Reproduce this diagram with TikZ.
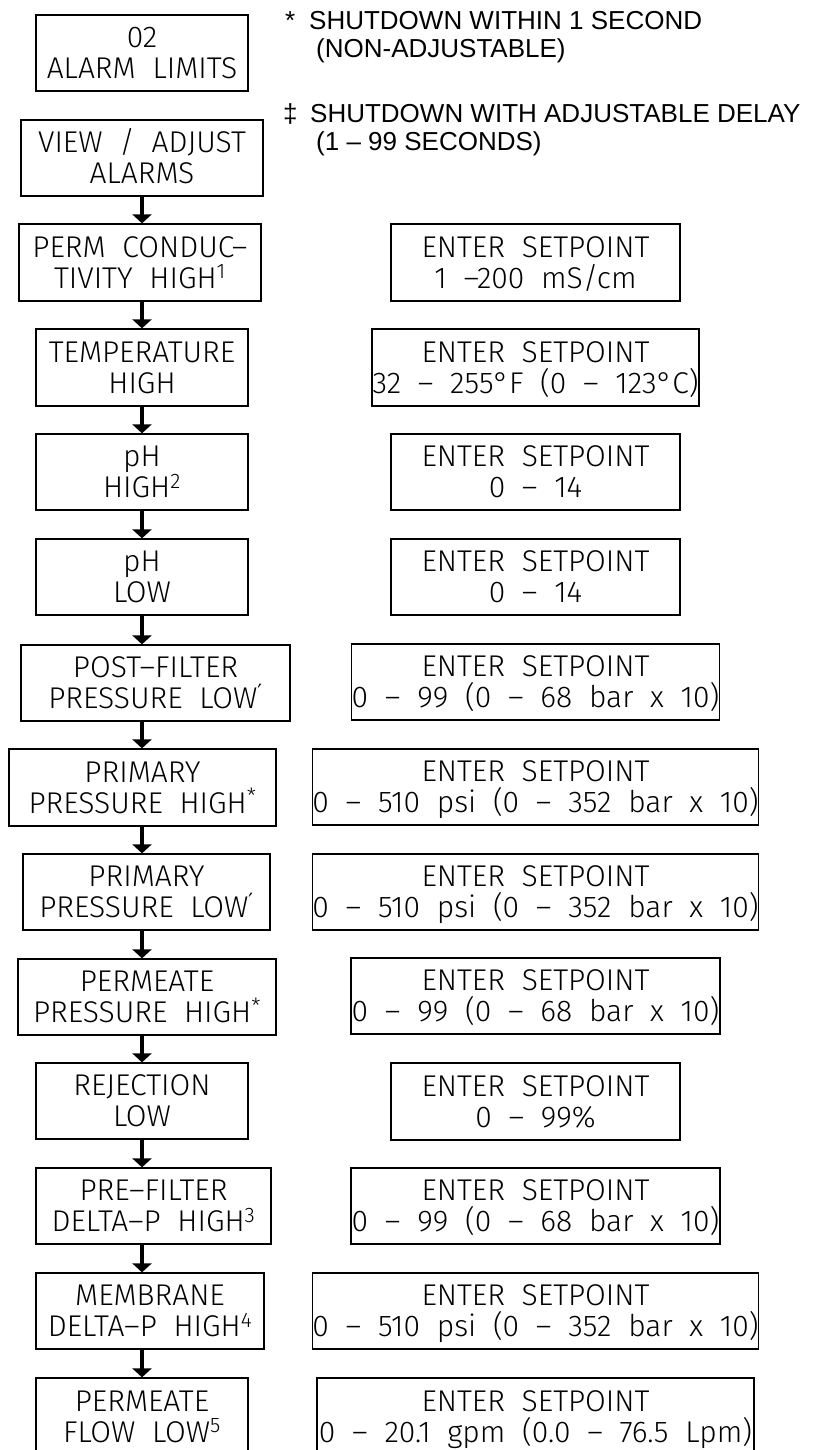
\documentclass[tikz,border=0pt]{standalone}
\usepackage{fontspec}
\usetikzlibrary{arrows.meta}
\newfontfamily\cadfont{Fira Sans}[UprightFont=* Light, WordSpace=2]
\newfontfamily\legendfont{Liberation Sans}
\newfontfamily\primefont{DejaVu Sans}
\newcommand\bx[7]{%
  \node[box, minimum width={(#3-#2)*1pt}, minimum height={(#5-#4)*1pt}] (#1)
    at ({(#2+#3)/2},{(#4+#5)/2}) {\rule{0pt}{20pt}\smash{#6}\\\smash{#7}};}
\newcommand\dagmark{\textsuperscript{\primefont ′}}
\tikzset{
  box/.style={draw=black, line width=1.3pt, inner sep=0pt, align=center,
    font=\cadfont\fontsize{30}{31}\selectfont},
  arr/.style={line width=4.5pt, -{Triangle[width=19pt,length=9pt]}},
  leg/.style={anchor=base west, inner sep=0pt,
    font=\legendfont\fontsize{26}{28}\selectfont},
}
\begin{document}
\begin{tikzpicture}[x=1pt,y=-1pt]
\useasboundingbox (0,0) rectangle (820,1450);
\clip (0,0) rectangle (820,1450);
\fill[white] (0,0) rectangle (820,1450);
% legend
\node[leg] (s1) at (285,30) {*};
\node[leg] (l1) at (309,30) {SHUTDOWN WITHIN 1 SECOND};
\node[leg] (l2) at (316,58) {(NON-ADJUSTABLE)};
\node[leg] (s2) at (283,123) {‡};
\node[leg] (l3) at (310,123) {SHUTDOWN WITH ADJUSTABLE DELAY};
\node[leg] (l4) at (316,151) {(1 – 99 SECONDS)};
% left column
\bx{b1}{36}{248}{15}{91}{02}{ALARM LIMITS}
\bx{b2}{21}{263}{120}{196}{VIEW / ADJUST}{ALARMS}
\bx{b3}{19}{261}{224}{301}{PERM CONDUC–}{TIVITY HIGH\textsuperscript{1}}
\bx{b4}{36}{248}{329}{406}{TEMPERATURE}{HIGH}
\bx{b5}{36}{248}{434}{510}{pH}{HIGH\textsuperscript{2}}
\bx{b6}{36}{248}{539}{615}{pH}{LOW}
\bx{b7}{21}{290}{645}{721}{POST–FILTER}{PRESSURE LOW\dagmark}
\bx{b8}{9}{276}{749}{826}{PRIMARY}{PRESSURE HIGH\textsuperscript{*}}
\bx{b9}{23}{270}{854}{930}{PRIMARY}{PRESSURE LOW\dagmark}
\bx{b10}{18}{276}{959}{1035}{PERMEATE}{PRESSURE HIGH\textsuperscript{*}}
\bx{b11}{36}{248}{1063}{1139}{REJECTION}{LOW}
\bx{b12}{36}{271}{1168}{1244}{PRE–FILTER}{DELTA–P HIGH\textsuperscript{3}}
\bx{b13}{36}{264}{1273}{1349}{MEMBRANE}{DELTA–P HIGH\textsuperscript{4}}
\bx{b14}{36}{248}{1378}{1455}{PERMEATE}{FLOW LOW\textsuperscript{5}}
% right column
\bx{e3}{391}{680}{224}{301}{ENTER SETPOINT}{1 –200 mS/cm}
\bx{e4}{372}{699}{329}{406}{ENTER SETPOINT}{32 – 255°F (0 – 123°C)}
\bx{e5}{391}{680}{434}{510}{ENTER SETPOINT}{0 – 14}
\bx{e6}{391}{680}{539}{615}{ENTER SETPOINT}{0 – 14}
\bx{e7}{353}{718}{644}{720}{ENTER SETPOINT}{0 – 99 (0 – 68 bar x 10)}
\bx{e8}{315}{756}{749}{825}{ENTER SETPOINT}{0 – 510 psi (0 – 352 bar x 10)}
\bx{e9}{315}{756}{854}{930}{ENTER SETPOINT}{0 – 510 psi (0 – 352 bar x 10)}
\bx{e10}{351}{720}{958}{1034}{ENTER SETPOINT}{0 – 99 (0 – 68 bar x 10)}
\bx{e11}{391}{680}{1063}{1140}{ENTER SETPOINT}{0 – 99\%}
\bx{e12}{351}{720}{1168}{1244}{ENTER SETPOINT}{0 – 99 (0 – 68 bar x 10)}
\bx{e13}{313}{758}{1273}{1349}{ENTER SETPOINT}{0 – 510 psi (0 – 352 bar x 10)}
\bx{e14}{317}{754}{1378}{1455}{ENTER SETPOINT}{0 – 20.1 gpm (0.0 – 76.5 Lpm)}
% arrows
\coordinate (ax) at (142,0);
\foreach \a/\b in {b2/b3,b3/b4,b4/b5,b5/b6,b6/b7,b7/b8,b8/b9,b9/b10,b10/b11,b11/b12,b12/b13,b13/b14}
  \draw[arr] (\a.south -| ax) -- (\b.north -| ax);
\end{tikzpicture}
\end{document}
